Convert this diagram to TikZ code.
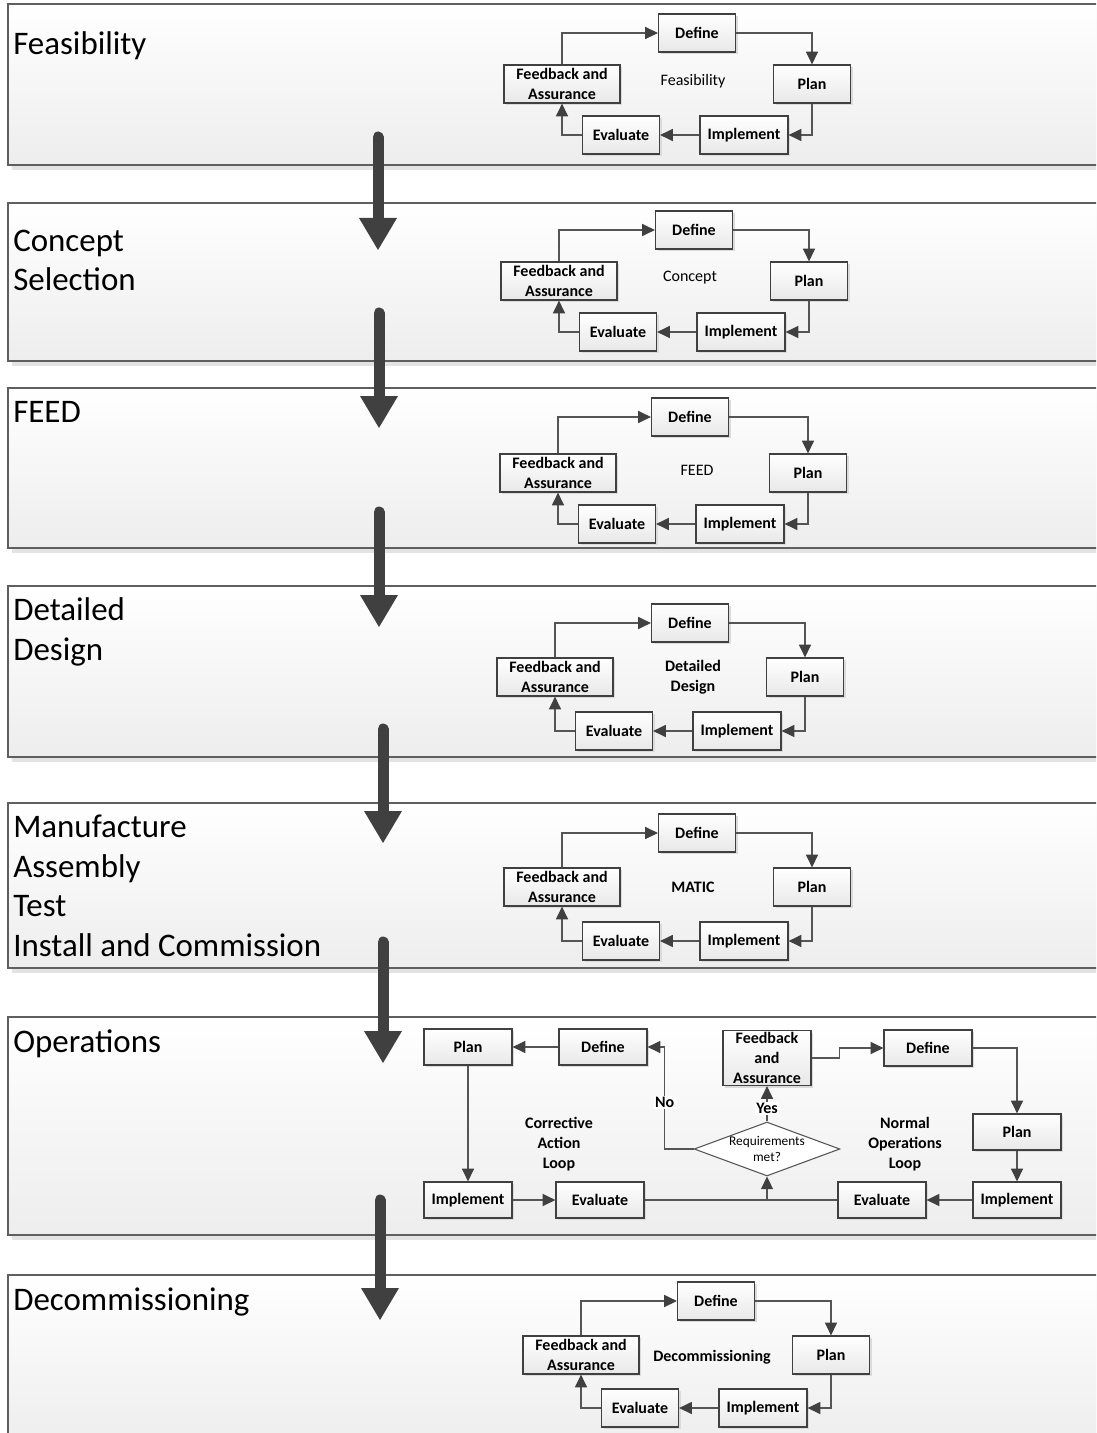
\documentclass[tikz,border=0pt]{standalone}
\usepackage{fontspec}
\setmainfont{Carlito}
\usetikzlibrary{arrows.meta,shapes.geometric,shadows}

\definecolor{edge}{RGB}{85,85,85}
\definecolor{dark}{RGB}{64,64,64}
\definecolor{panelline}{RGB}{95,95,95}

\tikzset{
  panel/.style={draw=panelline, line width=1pt, top color=white, bottom color=black!7},
  panelshadow/.style={fill=black!11, draw=none},
  box/.style={draw=dark, line width=0.9pt, top color=white, bottom color=black!9,
    inner sep=0pt, minimum height=28.5pt, align=center,
    font=\bfseries\fontsize{12}{15}\selectfont,
    drop shadow={shadow xshift=1.5pt, shadow yshift=-1.5pt, fill=black!14, opacity=1}},
  opbox/.style={box, minimum width=66pt, minimum height=27pt},
  link/.style={draw=edge, line width=0.8pt, -{Triangle[length=9.5pt,width=9pt,color=dark]}},
  plainlink/.style={draw=edge, line width=0.8pt},
  bigarrow/.style={draw=dark, line width=8.25pt, line cap=round,
    -{Triangle[length=24pt,width=28.5pt,line width=0pt]}},
  % multi-line titles are placed by the baseline of their last line
  title/.style={anchor=base west, inner sep=0pt, align=left,
    font=\fontsize{24.7}{29.6}\selectfont},
  loopname/.style={inner sep=0pt, align=center, font=\fontsize{12}{15}\selectfont},
  boldname/.style={loopname, font=\bfseries\fontsize{12}{15}\selectfont},
  decision/.style={diamond, draw=edge, line width=0.8pt, fill=white, aspect=2.7,
    inner sep=0pt, minimum width=105pt, minimum height=39pt, align=center,
    font=\fontsize{10}{12.5}\selectfont},
  tag/.style={fill=white, inner sep=1pt, font=\bfseries\fontsize{12}{15}\selectfont},
}

% one Define-Plan-Implement-Evaluate-Feedback cycle
% #1 prefix, #2 define, #3 feedback, #4 plan, #5 implement, #6 evaluate,
% #7 the stage-name node (options, name, position and text)
\newcommand\pdloop[7]{%
  \node[box, minimum width=57.75pt] (#1def)  at (#2) {Define};
  \node[box, minimum width=87pt]    (#1fb)   at (#3) {Feedback and\\Assurance};
  \node[box, minimum width=57.75pt] (#1plan) at (#4) {Plan};
  \node[box, minimum width=66pt]    (#1imp)  at (#5) {Implement};
  \node[box, minimum width=57.75pt] (#1eval) at (#6) {Evaluate};
  \node #7;
  \draw[link] (#1fb.north) |- (#1def.west);
  \draw[link] (#1def.east) -| (#1plan.north);
  \draw[link] (#1plan.south) |- (#1imp.east);
  \draw[link] (#1imp.west) -- (#1eval.east);
  \draw[link] (#1eval.west) -| (#1fb.south);
}

\begin{document}
\begin{tikzpicture}[x=0.75pt, y=-0.75pt]
\useasboundingbox (0,0) rectangle (1096,1433);
\clip (0,0) rectangle (1096,1433);

% stage panels
\foreach \t/\b in {4/165, 203/361, 388/548, 586/757, 803/968, 1017/1235, 1275/1445} {
  \fill[panelshadow] (12,\t+4) rectangle (1110,\b+5);
  \draw[panel] (8,\t) rectangle (1106,\b);
}

% stage titles
\node[title] (t1) at (13,55)   {Feasibility};
\node[title] (t2) at (13,291)  {Concept\\Selection};
\node[title] (t3) at (13,422)  {FEED};
\node[title] (t4) at (13,660)  {Detailed\\Design};
\node[title] (t5) at (13,956)  {Manufacture\\Assembly\\Test\\Install and Commission};
\node[title] (t6) at (13,1052) {Operations};
\node[title] (t7) at (13,1310) {Decommissioning};

% stage cycles
\pdloop{a}{697,33}{562,84}{812,84}{744,135}{621,135}{[loopname] (aname) at (693,81) {Feasibility}}
\pdloop{b}{694,230}{559,281}{809,281}{741,332}{618,332}{[loopname] (bname) at (690,278) {Concept}}
\pdloop{c}{690,417}{558,473}{808,473}{740,524}{617,524}{[loopname] (cname) at (697,470) {FEED}}
\pdloop{d}{690,623}{555,677}{805,677}{737,731}{614,731}{[boldname] (dname) at (693,677) {Detailed\\Design}}
\pdloop{e}{697,833}{562,887}{812,887}{744,941}{621,941}{[boldname] (ename) at (693,887) {MATIC}}
\pdloop{g}{716,1301}{581,1355}{831,1355}{763,1408}{640,1408}{[boldname] (gname) at (712,1357) {Decommissioning}}

% operations: corrective action loop and normal operations loop
\node[opbox] (oLplan) at (468,1047) {Plan};
\node[opbox] (oLdef)  at (603,1047) {Define};
\node[opbox, minimum height=41.25pt] (ofb) at (767,1058) {Feedback\\and\\Assurance};
\node[opbox] (oRdef)  at (928,1048) {Define};
\node[opbox] (oRplan) at (1017,1132) {Plan};
\node[opbox] (oRimp)  at (1017,1200) {Implement};
\node[opbox] (oReval) at (882,1200) {Evaluate};
\node[opbox] (oLimp)  at (468,1200) {Implement};
\node[opbox] (oLeval) at (600,1200) {Evaluate};
\node[decision] (odec) at (767,1149) {Requirements\\met?};
\node[boldname] (ocorr) at (559,1144) {Corrective\\Action\\Loop};
\node[boldname] (onorm) at (905,1144) {Normal\\Operations\\Loop};

\draw[link] (oLdef.west) -- (oLplan.east);
\draw[link] (oLplan.south) -- (oLimp.north);
\draw[link] (oLimp.east) -- (oLeval.west);
\draw[plainlink] (oLeval.east) -- (oReval.west);
\draw[link] (odec.south |- oLeval.east) -- (odec.south);
\draw[link] (oRimp.west) -- (oReval.east);
\draw[link] (oRplan.south) -- (oRimp.north);
\draw[link] (oRdef.east) -| (oRplan.north);
\draw[link] (ofb.east) -- ++(28,0) |- (oRdef.west);
\draw[link] (odec.north) -- node[tag, pos=0.36] (oyes) {Yes} (ofb.south);
\draw[link] (odec.west) -- ++(-29,0) |- node[tag, pos=0.23] (ono) {No} (oLdef.east);

% flow between stages
\foreach \i/\x/\s/\e in {1/378/137/250, 2/379/313/428, 3/379/512/627,
                         4/383/729/843, 5/383/942/1063, 6/380/1200/1320} {
  \coordinate (s\i) at (\x,\s);
  \coordinate (e\i) at (\x,\e);
  \draw[bigarrow] (s\i) -- (e\i);
}
\end{tikzpicture}
\end{document}
